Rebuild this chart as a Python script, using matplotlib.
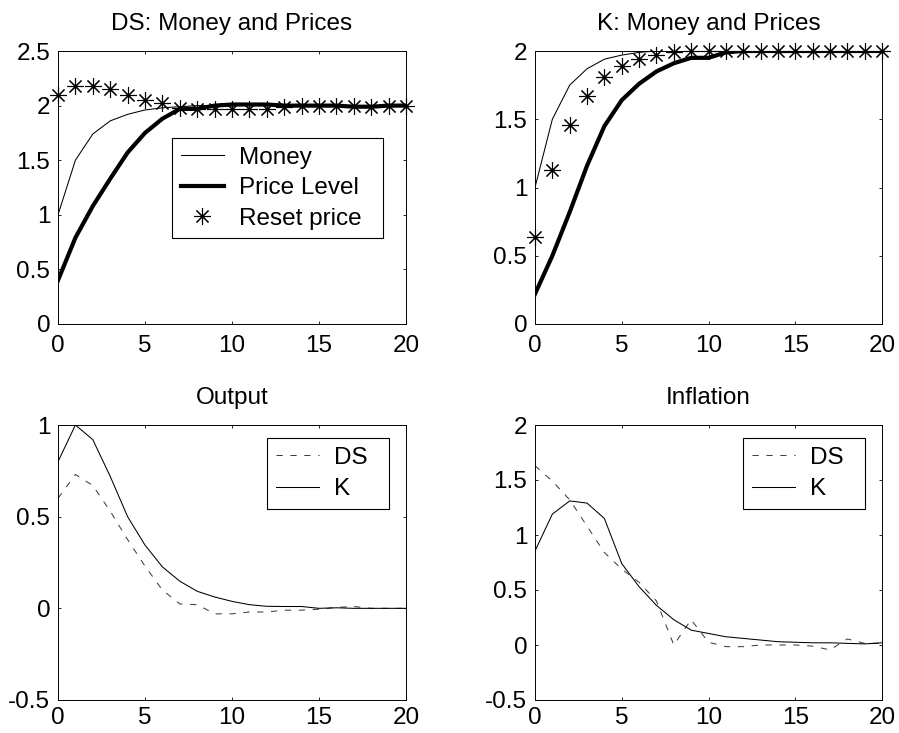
import numpy as np
import matplotlib
matplotlib.use("Agg")
import matplotlib.pyplot as plt
from matplotlib.ticker import FuncFormatter

plt.rcParams['font.family'] = ['Liberation Sans', 'DejaVu Sans']
plt.rcParams['axes.unicode_minus'] = False
plt.rcParams['lines.scale_dashes'] = False

# ---------------------------------------------------------------
# data, horizon 0..20
# ---------------------------------------------------------------
horizon = np.arange(21)

ds_money = [1.0, 1.5, 1.74, 1.86, 1.92, 1.96, 1.98, 1.99, 2.0, 2.0, 2.0,
            2.0, 2.0, 2.0, 2.0, 2.0, 2.0, 2.0, 2.0, 2.0, 2.0]
ds_price = [0.40, 0.79, 1.08, 1.33, 1.57, 1.75, 1.88, 1.97, 1.97, 2.0, 2.01,
            2.01, 2.01, 2.0, 2.0, 2.0, 2.0, 1.99, 1.99, 2.0, 2.0]
ds_reset = [2.10, 2.18, 2.18, 2.15, 2.10, 2.05, 2.02, 1.98, 1.97, 1.97, 1.97,
            1.97, 1.97, 1.99, 2.0, 2.0, 2.0, 2.0, 1.99, 2.0, 2.0]

k_money = [1.0, 1.5, 1.75, 1.87, 1.94, 1.97, 1.99, 2.0, 2.0, 2.0, 2.0,
           2.0, 2.0, 2.0, 2.0, 2.0, 2.0, 2.0, 2.0, 2.0, 2.0]
k_price = [0.22, 0.50, 0.82, 1.16, 1.45, 1.64, 1.76, 1.85, 1.91, 1.95, 1.95,
           1.99, 2.0, 2.0, 2.0, 2.0, 2.0, 2.0, 2.0, 2.0, 2.0]
k_reset = [0.64, 1.13, 1.46, 1.67, 1.81, 1.89, 1.94, 1.97, 1.99, 2.0, 2.0,
           2.0, 2.0, 2.0, 2.0, 2.0, 2.0, 2.0, 2.0, 2.0, 2.0]

output_ds = [0.60, 0.73, 0.67, 0.53, 0.375, 0.23, 0.10, 0.024, 0.02, -0.03, -0.03,
             -0.02, -0.02, -0.01, -0.01, -0.005, 0.005, 0.01, 0.0, 0.0, 0.0]
output_k = [0.80, 1.0, 0.92, 0.72, 0.50, 0.345, 0.226, 0.148, 0.093, 0.062, 0.038,
            0.02, 0.011, 0.01, 0.01, 0.0, 0.003, 0.0, 0.0, 0.0, 0.0]

infl_ds = [1.63, 1.49, 1.32, 1.08, 0.84, 0.69, 0.57, 0.40, 0.0, 0.23, 0.025,
           -0.015, -0.015, 0.0, 0.0, 0.0, -0.01, -0.045, 0.055, 0.015, 0.015]
infl_k = [0.855, 1.19, 1.31, 1.29, 1.15, 0.74, 0.53, 0.36, 0.23, 0.135, 0.105,
          0.075, 0.06, 0.045, 0.03, 0.025, 0.02, 0.02, 0.015, 0.01, 0.02]

FS = 17.5
THIN = 0.75
THICK = 3.0
ASTERISK = (8, 2, 0)
DASH = (4.5, 5.5)
DASH_COLOR = '#404040'

fig = plt.figure(figsize=(8.99, 7.33), dpi=100)

# axes placement in pixels (left, top, right, bottom)
W, H = 899, 733
boxes = [(58, 51, 406, 324), (535, 51, 882, 324),
         (58, 425, 406, 700), (535, 425, 882, 700)]
axes = [fig.add_axes([l / W, 1 - b / H, (r - l) / W, (b - t) / H]) for l, t, r, b in boxes]


def style(ax, ylim, yticks, title, xpad):
    ax.set_xlim(0, 20)
    ax.set_ylim(*ylim)
    ax.set_xticks([0, 5, 10, 15, 20])
    ax.set_yticks(yticks)
    ax.yaxis.set_major_formatter(FuncFormatter(lambda v, p: f"{v:g}"))
    ax.tick_params(direction='in', top=True, right=True, length=2.5, width=0.6,
                   labelsize=FS)
    ax.tick_params(axis='x', pad=xpad)
    ax.tick_params(axis='y', pad=5.5)
    for s in ax.spines.values():
        s.set_linewidth(0.7)
    ax.set_title(title, fontsize=FS, pad=15)


def add_legend(ax, anchor, spacing):
    leg = ax.legend(loc='upper left', bbox_to_anchor=anchor, borderaxespad=0,
                    fontsize=FS, fancybox=False, edgecolor='black', framealpha=1,
                    handlelength=1.8, handletextpad=0.6, labelspacing=spacing,
                    borderpad=0.35)
    leg.get_frame().set_linewidth(0.8)
    return leg


# DS: money and prices
ax = axes[0]
ax.plot(horizon, ds_money, color='black', lw=THIN, label='Money  ')
ax.plot(horizon, ds_price, color='black', lw=THICK, label='Price Level  ')
ax.plot(horizon, ds_reset, ls='none', marker=ASTERISK, ms=12, mew=0.8,
        color='black', label='Reset price  ', clip_on=False)
style(ax, (0, 2.5), [0, 0.5, 1, 1.5, 2, 2.5], 'DS: Money and Prices', 8)
add_legend(ax, ((172 - 58) / 348, 1 - (138 - 51) / 273), 0.35)

# K: money and prices
ax = axes[1]
ax.plot(horizon, k_money, color='black', lw=THIN)
ax.plot(horizon, k_price, color='black', lw=THICK)
ax.plot(horizon, k_reset, ls='none', marker=ASTERISK, ms=12, mew=0.8,
        color='black', clip_on=False)
style(ax, (0, 2), [0, 0.5, 1, 1.5, 2], 'K: Money and Prices', 8)

# Output
ax = axes[2]
ax.plot(horizon, output_ds, color=DASH_COLOR, lw=THIN, dashes=DASH, label='DS  ')
ax.plot(horizon, output_k, color='black', lw=THIN, label='K  ')
style(ax, (-0.5, 1), [-0.5, 0, 0.5, 1], 'Output', 5)
add_legend(ax, ((267 - 58) / 348, 1 - (438 - 425) / 275), 0.4)

# Inflation
ax = axes[3]
ax.plot(horizon, infl_ds, color=DASH_COLOR, lw=THIN, dashes=DASH, label='DS  ')
ax.plot(horizon, infl_k, color='black', lw=THIN, label='K  ')
style(ax, (-0.5, 2), [-0.5, 0, 0.5, 1, 1.5, 2], 'Inflation', 5)
add_legend(ax, ((743 - 535) / 347, 1 - (438 - 425) / 275), 0.4)

fig.savefig("out.png", dpi=100)
